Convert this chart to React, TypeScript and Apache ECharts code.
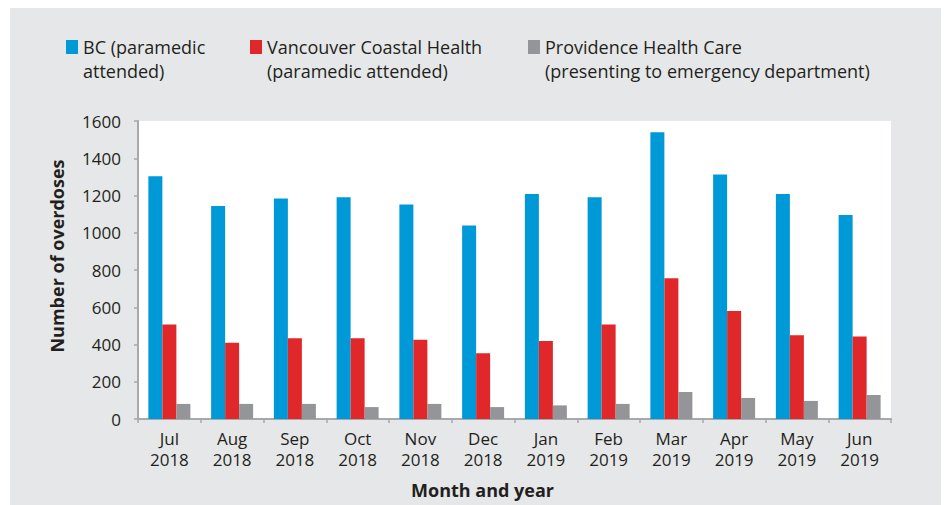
import React, { useEffect, useRef } from "react";
import * as echarts from "echarts";

const months = ["Jul\n2018", "Aug\n2018", "Sep\n2018", "Oct\n2018", "Nov\n2018", "Dec\n2018", "Jan\n2019", "Feb\n2019", "Mar\n2019", "Apr\n2019", "May\n2019", "Jun\n2019"];
const bcValues = [1304, 1143, 1184, 1191, 1152, 1039, 1208, 1191, 1539, 1313, 1208, 1095];
const vchValues = [507, 410, 434, 434, 426, 353, 419, 507, 756, 580, 450, 443];
const phcValues = [81, 81, 81, 64, 81, 64, 73, 81, 145, 113, 97, 129];
const seriesNames = [
  "BC (paramedic\nattended)",
  "Vancouver Coastal Health\n(paramedic attended)",
  "Providence Health Care\n(presenting to emergency department)",
];
const colors = ["#0099d8", "#e0282a", "#939598"];

const FONT = "Open Sans";
const TEXT = "#231f20";

export default function App() {
  const ref = useRef<HTMLDivElement>(null);
  useEffect(() => {
    const chart = echarts.init(ref.current!, null, { renderer: "svg" });
    const legendLefts = [66, 250, 528];
    chart.setOption({
      animation: false,
      backgroundColor: "#ffffff",
      graphic: [
        {
          type: "rect",
          z: -10,
          silent: true,
          shape: { x: 10, y: 8, width: 931, height: 497 },
          style: { fill: "#e6e7e8" },
        },
      ],
      legend: seriesNames.map((n, i) => ({
        data: [n],
        left: legendLefts[i],
        top: 35,
        padding: 0,
        icon: "path://M0,0L12,0L12,14L0,14Z M0,38L0,38",
        itemWidth: 12,
        itemHeight: 38,
        itemGap: 0,
        selectedMode: false,
        textStyle: {
          fontFamily: FONT,
          fontSize: 18,
          color: TEXT,
          lineHeight: 24,
        },
      })),
      grid: {
        left: 138,
        right: 54,
        top: 121,
        bottom: 86,
        show: true,
        backgroundColor: "#ffffff",
        borderWidth: 0,
      },
      xAxis: {
        type: "category",
        data: months,
        name: "Month and year",
        nameLocation: "middle",
        nameGap: 62,
        nameTextStyle: {
          fontFamily: FONT,
          fontSize: 18,
          fontWeight: "bold",
          color: TEXT,
          padding: [0, 64, 0, 0],
        },
        axisLine: { lineStyle: { color: "#a7a9ac", width: 2 } },
        axisTick: { show: true, length: 4, lineStyle: { color: "#a7a9ac", width: 1.5 } },
        axisLabel: {
          fontFamily: FONT,
          fontSize: 17,
          color: TEXT,
          lineHeight: 21,
          margin: 9,
        },
      },
      yAxis: {
        type: "value",
        min: 0,
        max: 1600,
        interval: 200,
        name: "Number of overdoses",
        nameLocation: "middle",
        nameGap: 72,
        nameTextStyle: {
          fontFamily: FONT,
          fontSize: 18,
          fontWeight: "bold",
          color: TEXT,
          padding: [0, 0, 0, 28],
        },
        axisLine: { show: true, lineStyle: { color: "#a7a9ac", width: 2 } },
        axisTick: { show: true, length: 4, lineStyle: { color: "#a7a9ac", width: 1.5 } },
        splitLine: { show: false },
        axisLabel: {
          fontFamily: FONT,
          fontSize: 17,
          color: TEXT,
          margin: 17,
          formatter: (v: number) => String(v),
        },
      },
      series: [bcValues, vchValues, phcValues].map((d, i) => ({
        type: "bar",
        name: seriesNames[i],
        data: d,
        barWidth: 14,
        barGap: "0%",
        itemStyle: { color: colors[i] },
      })),
    });
    return () => chart.dispose();
  }, []);
  return (
    <div
      ref={ref}
      style={{ position: "fixed", left: 0, top: 0, width: 945, height: 505 }}
    />
  );
}
